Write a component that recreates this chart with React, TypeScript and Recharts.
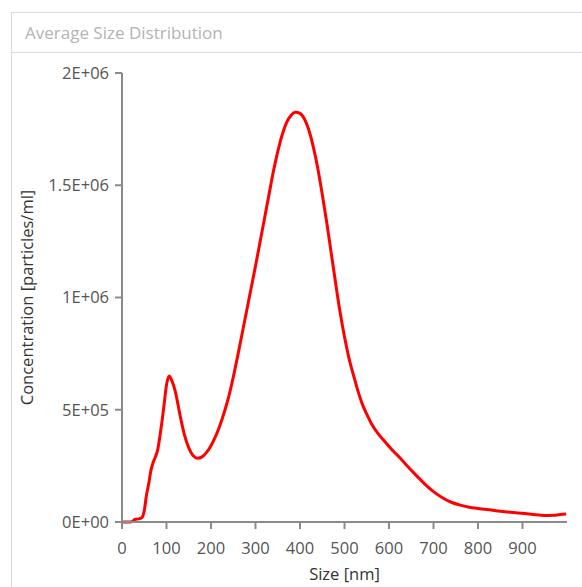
import { CartesianGrid, Line, LineChart, XAxis, YAxis } from "recharts"

// size in nm, concentration in particles/ml
const sizes = [
  0, 10, 20, 30, 40, 45, 50, 55, 60, 65, 70, 75, 80, 85, 90, 95, 100, 106, 112, 120,
  130, 140, 150, 160, 170, 180, 190, 200, 210, 220, 230, 240, 250, 260, 270, 280,
  290, 300, 310, 320, 330, 340, 350, 360, 370, 380, 390, 400, 410, 420, 430, 440,
  450, 460, 470, 480, 490, 500, 510, 520, 530, 540, 550, 560, 575, 590, 610, 625,
  640, 660, 680, 700, 720, 740, 760, 780, 800, 830, 860, 890, 920, 950, 970, 990, 998,
]
const concentration = [
  0, 0, 0, 12000, 15000, 20000, 50000, 120000, 170000, 230000, 265000, 290000, 320000,
  380000, 450000, 530000, 610000, 650000, 630000, 580000, 480000, 390000, 330000,
  295000, 284000, 290000, 310000, 340000, 380000, 430000, 490000, 560000, 645000,
  740000, 840000, 940000, 1040000, 1140000, 1245000, 1350000, 1455000, 1560000,
  1650000, 1725000, 1780000, 1812000, 1825000, 1820000, 1795000, 1745000, 1670000,
  1575000, 1460000, 1335000, 1200000, 1065000, 935000, 825000, 730000, 655000,
  585000, 525000, 480000, 440000, 395000, 360000, 315000, 285000, 252000, 210000,
  170000, 135000, 108000, 88000, 75000, 66000, 60000, 53000, 46000, 40000, 35000,
  29000, 30000, 35000, 36000,
]

const xTicks = [0, 100, 200, 300, 400, 500, 600, 700, 800, 900]
const yTicks = [0, 500000, 1000000, 1500000, 2000000]
const yTickLabels = ["0E+00", "5E+05", "1E+06", "1.5E+06", "2E+06"]

const data = sizes.map((s, i) => ({ size: s, value: concentration[i] }))

const FONT = "'Open Sans', 'Noto Sans', sans-serif"
const AXIS = "#8a8a8a"

export default function App() {
  return (
    <div
      style={{
        position: "absolute",
        left: 0,
        top: 0,
        width: 582,
        height: 587,
        overflow: "hidden",
        background: "#fff",
        fontFamily: FONT,
      }}
    >
      <div
        style={{
          position: "absolute",
          left: 11,
          top: 12,
          width: 620,
          height: 620,
          border: "1px solid #dadada",
        }}
      >
        <div
          style={{
            height: 39,
            borderBottom: "1px solid #dadada",
            color: "#b3b3b3",
            fontSize: 17,
            lineHeight: "40px",
            paddingLeft: 13,
          }}
        >
          Average Size Distribution
        </div>
      </div>
      <div style={{ position: "absolute", left: 0, top: 0 }}>
        <LineChart
          width={582}
          height={587}
          data={data}
          margin={{ top: 73, right: 15, bottom: 5, left: 0 }}
        >
          <CartesianGrid stroke="none" />
          <XAxis
            dataKey="size"
            type="number"
            domain={[0, 1000]}
            ticks={xTicks}
            interval={0}
            height={60}
            stroke={AXIS}
            strokeWidth={2}
            tickSize={7}
            tickMargin={13}
            tick={{ fill: "#555", fontSize: 16.5, fontFamily: FONT }}
            label={{
              value: "Size [nm]",
              position: "insideBottom",
              offset: 2,
              fill: "#333",
              fontSize: 16.5,
              fontFamily: FONT,
            }}
          />
          <YAxis
            type="number"
            domain={[0, 2000000]}
            ticks={yTicks}
            interval={0}
            width={122}
            stroke={AXIS}
            strokeWidth={2}
            tickSize={7}
            tickMargin={6}
            tickFormatter={(v: number) => yTickLabels[yTicks.indexOf(v)] ?? String(v)}
            tick={{ fill: "#555", fontSize: 16.5, fontFamily: FONT }}
            label={{
              value: "Concentration [particles/ml]",
              angle: -90,
              position: "insideLeft",
              offset: 27,
              style: { textAnchor: "middle" },
              fill: "#333",
              fontSize: 16.5,
              fontFamily: FONT,
            }}
          />
          <Line
            type="monotone"
            dataKey="value"
            stroke="#ff0000"
            strokeWidth={3}
            dot={false}
            isAnimationActive={false}
          />
        </LineChart>
      </div>
    </div>
  )
}
